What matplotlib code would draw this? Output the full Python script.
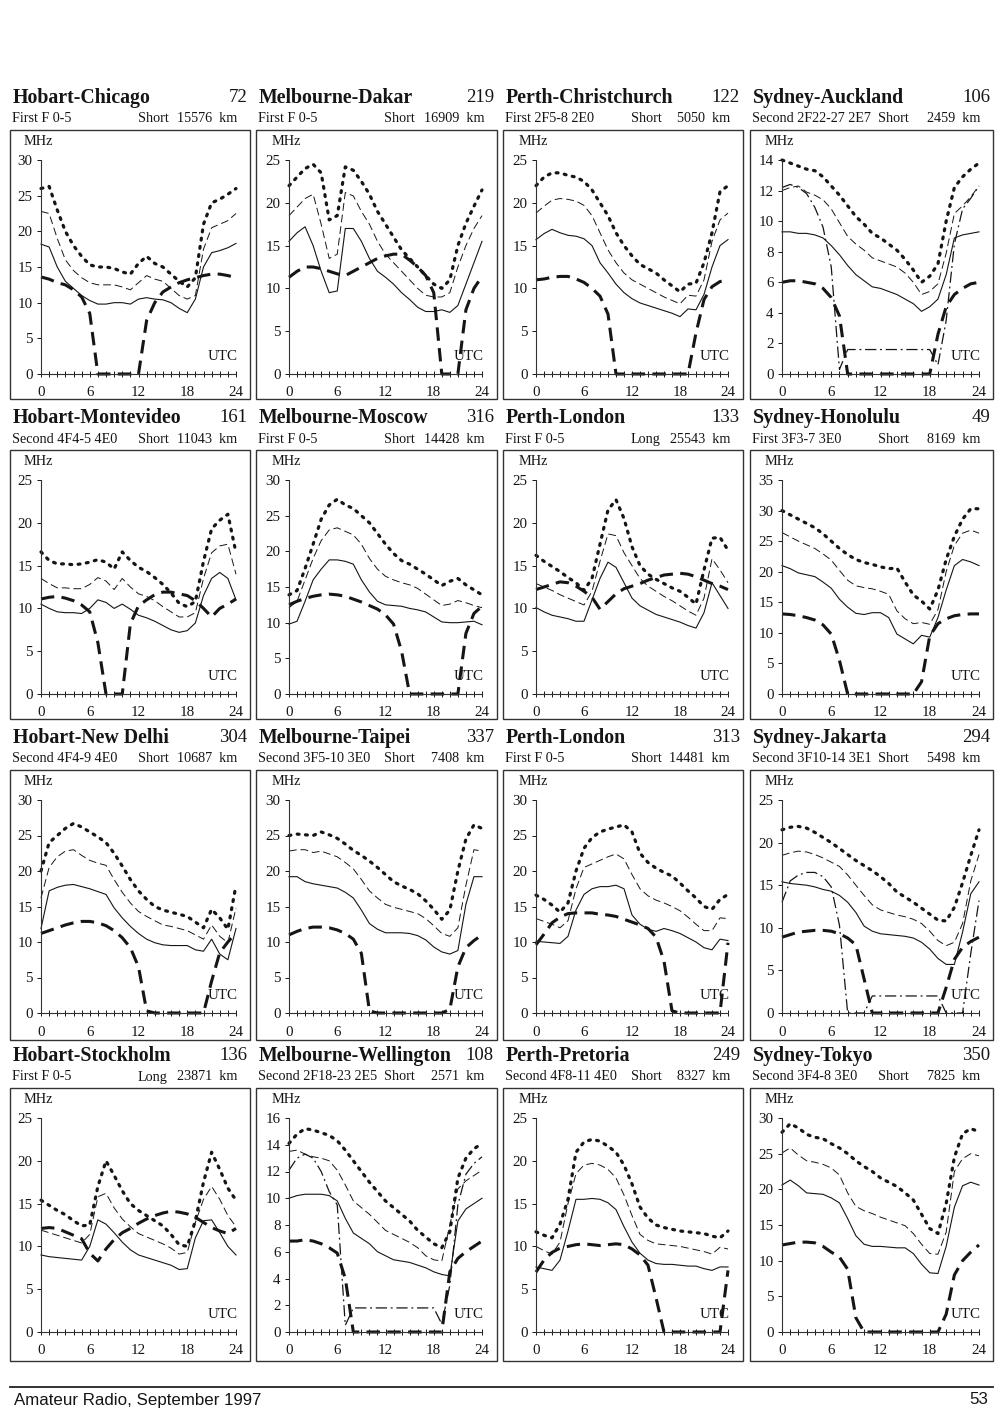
import numpy as np
import matplotlib
matplotlib.use("Agg")
import matplotlib.pyplot as plt
from matplotlib.patches import Rectangle
from matplotlib.lines import Line2D

plt.rcParams['font.family'] = ['Liberation Serif', 'DejaVu Serif']

# ---- panel information -------------------------------------------------
routes = ['Hobart-Chicago', 'Melbourne-Dakar', 'Perth-Christchurch', 'Sydney-Auckland',
          'Hobart-Montevideo', 'Melbourne-Moscow', 'Perth-London', 'Sydney-Honolulu',
          'Hobart-New Delhi', 'Melbourne-Taipei', 'Perth-London', 'Sydney-Jakarta',
          'Hobart-Stockholm', 'Melbourne-Wellington', 'Perth-Pretoria', 'Sydney-Tokyo']
bearings = ['72', '219', '122', '106', '161', '316', '133', '49',
            '304', '337', '313', '294', '136', '108', '249', '350']
modes = ['First F 0-5', 'First F 0-5', 'First 2F5-8 2E0', 'Second 2F22-27 2E7',
         'Second 4F4-5 4E0', 'First F 0-5', 'First F 0-5', 'First 3F3-7 3E0',
         'Second 4F4-9 4E0', 'Second 3F5-10 3E0', 'First F 0-5', 'Second 3F10-14 3E1',
         'First F 0-5', 'Second 2F18-23 2E5', 'Second 4F8-11 4E0', 'Second 3F4-8 3E0']
paths = ['Short', 'Short', 'Short', 'Short', 'Short', 'Short', 'Long', 'Short',
         'Short', 'Short', 'Short', 'Short', 'Long', 'Short', 'Short', 'Short']
distances = ['15576', '16909', '5050', '2459', '11043', '14428', '25543', '8169',
             '10687', '7408', '14481', '5498', '23871', '2571', '8327', '7825']
y_max = [30, 25, 25, 14, 25, 30, 25, 35, 30, 30, 30, 25, 25, 16, 25, 30]
y_step = [5, 5, 5, 2, 5, 5, 5, 5, 5, 5, 5, 5, 5, 2, 5, 5]

hours = list(range(25))

# dotted: upper decile
upper = [
    [26, 26.3, 23, 20, 18, 16.5, 15.3, 15, 15, 14.8, 14.3, 14, 15.5, 16.5, 15.5, 15, 14, 13, 12.2, 13.5, 21, 24, 24.5, 25.2, 26],
    [22, 23, 24, 24.5, 23.5, 18, 18.5, 24.2, 23.8, 22.5, 21, 19, 17.5, 16, 14.5, 13.5, 12.5, 11.5, 10.5, 10, 11, 15, 17.6, 19.6, 21.5],
    [22, 23, 23.5, 23.5, 23.2, 23, 22.5, 21.5, 20, 18.5, 16.5, 15, 13.8, 12.8, 12.3, 11.8, 11, 10.3, 9.6, 10.5, 10.6, 13, 16.5, 21.3, 22],
    [14, 13.8, 13.6, 13.4, 13.3, 12.9, 12.3, 11.7, 11, 10.3, 9.8, 9.2, 8.9, 8.5, 8.1, 7.5, 6.8, 6.0, 6.4, 7.2, 10, 12.2, 12.9, 13.4, 13.8],
    [16.6, 15.6, 15.2, 15.2, 15.1, 15.2, 15.4, 15.7, 15.4, 14.6, 16.6, 15.6, 14.8, 14.3, 13.6, 12.8, 11.8, 10.6, 10.2, 10.8, 15.5, 19.3, 20.3, 21, 16.5],
    [13.9, 14.5, 17.6, 21, 24.5, 26.5, 27.3, 26.5, 26, 25, 24, 22.5, 21, 19.7, 18.7, 18.2, 17.5, 16.8, 16, 15.2, 15.8, 16.2, 15.3, 14.6, 13.9],
    [16.2, 15.5, 14.9, 14.3, 13.6, 13, 12.1, 13.5, 17.5, 21.5, 22.7, 20.5, 17.2, 15, 14, 13.4, 12.9, 12.4, 12, 11.3, 10.5, 14.5, 18.2, 18.3, 16.8],
    [30, 29.3, 28.6, 27.9, 27.2, 26.2, 25, 23.8, 22.8, 22, 21.5, 21.2, 20.8, 20.5, 20.6, 18.3, 16.2, 15.2, 13.9, 17, 22, 25.8, 28.6, 30.3, 30.3],
    [20, 24, 25, 26, 26.7, 26.2, 25.5, 24.8, 24, 22.5, 20.7, 18.8, 17.2, 16, 15, 14.5, 14.2, 13.9, 13.6, 12.8, 12, 14.6, 13.4, 11.8, 18],
    [25, 25.2, 25.1, 25, 25.5, 25.1, 24.6, 23.8, 22.9, 22.2, 21.4, 20.5, 19.5, 18.5, 17.9, 17.4, 16.8, 15.8, 14.6, 13.2, 14.5, 20, 24.5, 26.5, 26],
    [16.6, 16, 15.2, 14.2, 15.5, 20, 23.2, 24.7, 25.5, 25.9, 26.2, 26.5, 25.5, 22.5, 21.2, 20.4, 19.8, 19.3, 18.3, 17.2, 16.2, 15, 14.6, 16, 16.7],
    [21.5, 21.8, 21.9, 21.7, 21.2, 20.6, 20, 19.3, 18.6, 17.9, 17.3, 16.7, 16, 15.2, 14.2, 13.6, 13, 12.3, 11.6, 10.9, 10.8, 12.4, 15.3, 18.5, 21.5],
    [15.4, 14.8, 14.2, 13.7, 13, 12.4, 12.5, 17, 20, 18.3, 16.5, 15, 14.2, 13.6, 13, 12.4, 11.4, 10.2, 10, 13, 17.5, 21, 19, 16.8, 15.4],
    [14.1, 14.8, 15.2, 15.1, 14.9, 14.7, 14.3, 13.6, 12.8, 12, 11.2, 10.5, 9.8, 9.3, 8.8, 8.3, 7.6, 7.1, 6.6, 6.3, 7.5, 11.5, 13, 13.7, 14.1],
    [11.7, 11.3, 11, 12.6, 15.5, 21, 22.2, 22.5, 22.3, 21.7, 21, 19.5, 17.3, 14.6, 13.3, 12.5, 12.2, 12, 11.8, 11.7, 11.6, 11.5, 11.2, 11, 11.8],
    [28, 29.2, 28.6, 27.7, 27.3, 27.1, 26.4, 25.8, 25, 24, 23.2, 22.5, 21.6, 21, 20.4, 19.5, 18.5, 16.5, 14.5, 13.8, 18, 24.5, 27.8, 28.5, 28.1],
]

# thin dashed: median MUF
median = [
    [22.8, 22.5, 19, 16, 14.5, 13.5, 12.8, 12.5, 12.5, 12.5, 12.2, 11.8, 12.8, 13.8, 13.3, 13, 12, 11, 10.5, 11, 17.5, 20.5, 21, 21.5, 22.5],
    [18.5, 19.5, 20.5, 21, 17.5, 13.5, 14, 21.2, 20.8, 19, 17.5, 15.5, 14, 13, 12, 11, 10, 9.2, 9, 9, 9.5, 12.5, 15, 17, 18.5],
    [18.8, 19.6, 20.3, 20.5, 20.4, 20.2, 19.7, 18.5, 16.5, 14.5, 13, 11.8, 11, 10.5, 10, 9.5, 9, 8.6, 8.2, 9.2, 9.1, 11, 15.5, 18, 18.8],
    [12, 12.2, 12.3, 11.9, 11.7, 11.4, 10.8, 9.9, 9, 8.5, 8.1, 7.6, 7.4, 7.2, 7.0, 6.6, 6.0, 5.2, 5.4, 5.9, 7.9, 10.5, 11, 11.6, 12.3],
    [13.5, 12.9, 12.4, 12.4, 12.3, 12.3, 12.8, 13.6, 13.2, 12.2, 13.5, 12.5, 11.7, 11.4, 10.9, 10.2, 9.6, 9.0, 9.0, 9.5, 13.5, 16.5, 17.3, 17.5, 14],
    [12.1, 13, 16, 19, 21.5, 23, 23.3, 22.8, 22.3, 21, 19, 17.5, 16.5, 16, 15.6, 15.3, 14.8, 14, 13.2, 12.4, 12.6, 13.1, 12.8, 12.4, 12.1],
    [12.9, 12.5, 12.1, 11.6, 11.2, 10.8, 10.4, 12, 15.5, 18.7, 18.5, 16.5, 15, 13.5, 12.6, 12, 11.4, 10.9, 10.3, 9.7, 9.2, 11.2, 15.8, 14.5, 13],
    [26.4, 25.7, 25, 24.4, 23.8, 22.9, 21.9, 20.2, 18.6, 17.7, 17.4, 17.2, 16.8, 16.3, 13.6, 12.3, 11.5, 11.7, 11.4, 13.8, 20, 24.3, 26.3, 26.8, 26.3],
    [16.2, 20.5, 22, 22.8, 23, 22.2, 21.5, 21.1, 20.8, 18.8, 17, 15.5, 14.3, 13.6, 13, 12.4, 12.2, 11.9, 11.6, 11, 10.4, 12.4, 10.8, 9.9, 14.8],
    [22.8, 23, 23, 22.6, 22.8, 22.4, 22, 21.2, 20.3, 18.8, 17.2, 16.2, 15.3, 14.9, 14.6, 14.3, 14, 13.3, 12.3, 11.2, 10.8, 12, 18, 23, 22.8],
    [13.3, 12.9, 12.5, 12, 13, 17.5, 20.5, 21, 21.5, 22, 22.4, 21.7, 19.5, 17.5, 16.5, 15.9, 15.5, 15, 14.4, 13.5, 12.5, 11.6, 11.6, 13.4, 13.3],
    [18.5, 18.8, 19, 18.9, 18.6, 18.2, 17.7, 17.2, 16.2, 15, 13.8, 12.7, 12.1, 11.8, 11.5, 11.3, 11, 10.5, 9.6, 8.5, 7.9, 8.3, 10.5, 15.5, 18.6],
    [11.9, 11.6, 11.3, 11, 10.7, 10.4, 11.4, 15.8, 16.2, 14.5, 13.2, 12.3, 11.5, 11.1, 10.7, 10.3, 9.8, 9.1, 9.3, 12.8, 15.5, 17, 15.5, 13.6, 12.3],
    [13.5, 13.6, 13.3, 13.1, 13, 12.8, 12.1, 11, 9.8, 9.3, 8.8, 8.2, 7.6, 7.3, 7, 6.7, 6.3, 5.7, 5.4, 5.3, 8, 10.7, 11.3, 11.7, 12.1],
    [10, 9.5, 9.1, 10.5, 15, 18.5, 19.5, 19.7, 19.5, 19, 18, 16, 13.6, 11.4, 10.7, 10.3, 10.2, 10.1, 10, 9.8, 9.6, 9.4, 9.1, 9.9, 9.7],
    [25.1, 25.8, 24.8, 24, 23.8, 23.5, 23, 22, 19.5, 17.6, 17, 16.6, 16.1, 15.7, 15.3, 14.9, 13.8, 12.3, 11, 10.9, 14, 22.5, 24.3, 25, 24.7],
]

# solid: lower decile
lower = [
    [18.2, 17.8, 15, 13, 12, 11, 10.3, 9.8, 9.8, 10, 10, 9.8, 10.5, 10.7, 10.5, 10.4, 10, 9.2, 8.6, 10.5, 15, 17, 17.3, 17.7, 18.3],
    [15.5, 16.5, 17.2, 15, 12, 9.5, 9.7, 17, 17, 15.5, 13.5, 12, 11.3, 10.5, 9.5, 8.7, 7.8, 7.3, 7.3, 7.5, 7.2, 8, 10.5, 13, 15.5],
    [15.7, 16.4, 16.9, 16.5, 16.2, 16.1, 15.8, 15, 13, 11.8, 10.5, 9.5, 8.8, 8.3, 8, 7.7, 7.4, 7.1, 6.7, 7.6, 7.5, 9.3, 12.5, 15, 15.7],
    [9.3, 9.3, 9.2, 9.2, 9.1, 8.9, 8.4, 7.8, 7.1, 6.5, 6.1, 5.7, 5.6, 5.4, 5.2, 4.9, 4.6, 4.1, 4.4, 4.9, 6.5, 8.9, 9.1, 9.2, 9.3],
    [10.5, 10, 9.6, 9.5, 9.5, 9.4, 10, 11, 10.7, 10, 10.5, 9.9, 9.2, 8.9, 8.5, 8, 7.5, 7.2, 7.4, 8.3, 11.5, 13.5, 14.2, 13.5, 11],
    [9.8, 10.2, 13, 16, 17.5, 18.8, 18.8, 18.6, 18.2, 16, 14.3, 13, 12.5, 12.4, 12.3, 12, 11.8, 11.5, 10.8, 10.1, 10, 10, 10.1, 10.2, 9.7],
    [10.1, 9.6, 9.2, 9.0, 8.8, 8.5, 8.5, 11, 13.5, 15.4, 14.8, 13, 11.2, 10.3, 9.8, 9.3, 9, 8.7, 8.4, 8, 7.7, 9.5, 13, 11.5, 10],
    [21, 20.5, 19.8, 19.5, 19.2, 18.3, 17.3, 15.5, 14.2, 13.2, 13, 13.3, 13.3, 12.5, 9.8, 9, 8.2, 9.6, 9.3, 12.5, 17, 21, 22, 21.6, 21],
    [11.9, 17.2, 17.7, 18, 18.1, 17.8, 17.5, 17.1, 16.7, 14.8, 13.4, 12.2, 11.2, 10.4, 9.9, 9.6, 9.5, 9.5, 9.5, 8.9, 8.7, 10.4, 8.3, 7.5, 11.9],
    [19.2, 19.2, 18.5, 18.2, 18, 17.8, 17.6, 17, 16.2, 14.5, 12.6, 11.8, 11.3, 11.3, 11.3, 11.2, 10.9, 10.3, 9.3, 8.6, 8.3, 8.8, 15.3, 19.2, 19.2],
    [10.1, 10, 9.9, 9.8, 10.8, 14.5, 16.7, 17.5, 17.8, 17.8, 18, 17.5, 13.8, 12.5, 11.8, 11.5, 11.9, 11.6, 11.2, 10.6, 10, 9.2, 8.9, 10.4, 10.2],
    [15.4, 15.2, 15.1, 15, 14.8, 14.5, 14.3, 13.8, 13, 11.8, 10.2, 9.6, 9.3, 9.2, 9.1, 9, 8.8, 8.3, 7.5, 6.4, 5.7, 5.7, 9.5, 14, 15.4],
    [9, 8.8, 8.7, 8.6, 8.5, 8.4, 10, 13.1, 12.6, 11.6, 10.5, 9.6, 9, 8.7, 8.4, 8.1, 7.8, 7.3, 7.4, 11, 13, 13.1, 11.6, 10, 9],
    [10, 10.2, 10.3, 10.3, 10.3, 10.2, 9.8, 8.5, 7.4, 7, 6.6, 6, 5.7, 5.4, 5.3, 5.2, 5, 4.8, 4.5, 4.3, 4.2, 8.3, 9.2, 9.6, 10],
    [7.6, 7.4, 7.2, 8.4, 11.8, 15.5, 15.5, 15.6, 15.5, 15.1, 14.3, 12.3, 10.5, 9.2, 8.4, 8.0, 7.9, 7.9, 7.8, 7.7, 7.7, 7.4, 7.2, 7.6, 7.6],
    [20.6, 21.3, 20.5, 19.5, 19.4, 19.3, 18.8, 18.1, 15.9, 13.5, 12.3, 12, 12, 11.9, 11.8, 11.8, 11, 9.5, 8.3, 8.2, 12, 17.5, 20.5, 21, 20.6],
]

# thick dashed: absorption limiting frequency
alf = [
    [13.6, 13.3, 12.8, 12.5, 11.8, 10.8, 8.5, 0, 0, 0, 0, 0, 0, 7.5, 10, 11.5, 12.2, 12.8, 13.2, 13.5, 13.8, 14, 14, 13.8, 13.5],
    [11.3, 12, 12.5, 12.5, 12.3, 12, 11.7, 11.5, 12, 12.5, 13, 13.5, 13.8, 14, 14, 13.3, 12.5, 11.5, 9.5, 0, 0, 0, 7.5, 10, 11.4],
    [11, 11.1, 11.3, 11.4, 11.4, 11.1, 10.7, 10, 9.1, 7, 0, 0, 0, 0, 0, 0, 0, 0, 0, 0, 4.8, 8.7, 10.2, 10.8, 11],
    [6.0, 6.1, 6.1, 6.0, 5.9, 5.6, 5.0, 3.8, 0, 0, 0, 0, 0, 0, 0, 0, 0, 0, 0, 2.6, 4.4, 5.2, 5.6, 5.9, 6.0],
    [11.1, 11.3, 11.4, 11.2, 10.9, 10.4, 9.6, 6, 0, 0, 0, 8.2, 10.3, 11, 11.6, 11.9, 11.9, 11.7, 11.5, 10.9, 10, 9, 10, 10.5, 11.1],
    [12.5, 13, 13.4, 13.7, 13.9, 14, 13.9, 13.7, 13.3, 12.9, 12.4, 11.9, 11.1, 9.8, 6, 0, 0, 0, 0, 0, 0, 0, 8.5, 11.3, 12.3],
    [12.2, 12.5, 12.8, 13.1, 13, 12.6, 12, 11.3, 9.9, 10.8, 11.7, 12.3, 12.6, 12.9, 13.3, 13.6, 13.9, 14, 14.1, 14, 13.7, 13.3, 12.9, 12.6, 12.2],
    [13.1, 13, 12.8, 12.5, 12.1, 11.3, 9.8, 5.5, 0, 0, 0, 0, 0, 0, 0, 0, 0, 2, 9.5, 11.5, 12.3, 12.8, 13, 13.1, 13.1],
    [11.2, 11.6, 12, 12.4, 12.7, 12.9, 12.9, 12.7, 12.3, 11.6, 10.6, 9.2, 6.5, 0.3, 0, 0, 0, 0, 0, 0, 0, 4.5, 8.5, 10, 11.3],
    [11, 11.5, 11.9, 12.1, 12.1, 12, 11.7, 11.2, 10.4, 8.4, 0.3, 0, 0, 0, 0, 0, 0, 0, 0, 0, 0.5, 6.5, 9.2, 10.2, 11],
    [9.6, 11.1, 12.7, 13.5, 14, 14.1, 14.1, 14.1, 13.9, 13.8, 13.6, 13.2, 12.8, 12.4, 11.9, 10.7, 7.3, 0.3, 0, 0, 0, 0, 0, 0, 9.9],
    [8.9, 9.2, 9.5, 9.6, 9.7, 9.7, 9.6, 9.3, 8.8, 8, 4, 0, 0, 0, 0, 0, 0, 0, 0, 0, 3, 6.3, 7.7, 8.4, 8.9],
    [12.1, 12.2, 12.1, 11.7, 11.3, 10.9, 9.2, 8.3, 9.7, 10.8, 11.6, 12.1, 12.7, 13.2, 13.6, 13.9, 14.1, 14, 13.8, 13.4, 12.8, 12.2, 11.8, 11.5, 12.1],
    [6.8, 6.8, 6.9, 6.8, 6.6, 6.3, 5.9, 4, 0, 0, 0, 0, 0, 0, 0, 0, 0, 0, 0, 0, 4.5, 5.5, 6, 6.4, 6.8],
    [7, 8.4, 9.3, 9.8, 10, 10.2, 10.3, 10.2, 10.1, 10.2, 10.3, 10.2, 9.7, 9, 7.8, 4, 0, 0, 0, 0, 0, 0, 0, 0, 7.2],
    [12.2, 12.4, 12.6, 12.6, 12.5, 12, 11.2, 10.5, 8.8, 2, 0, 0, 0, 0, 0, 0, 0, 0, 0, 0, 2.5, 8, 10, 11.2, 12.2],
]

# dash-dot: E-layer MUF (short paths only)
e_auckland = [12.2, 12.4, 12.2, 11.8, 10.9, 9.6, 7, 0.3, 1.6, 1.6, 1.6, 1.6, 1.6, 1.6, 1.6, 1.6, 1.6, 1.6, 1.6, 0.6, 3.5, 8.5, 10.8, 11.5, 12.3]
e_jakarta = [13, 15.5, 16.2, 16.5, 16.5, 16, 14.8, 10.3, 0, 0, 0, 2, 2, 2, 2, 2, 2, 2, 2, 2, 0, 0, 0, 7, 13.2]
e_wellington = [12.1, 13, 13.3, 13, 12, 10.5, 9.5, 0.5, 1.8, 1.8, 1.8, 1.8, 1.8, 1.8, 1.8, 1.8, 1.8, 1.8, 1.8, 0.6, 3.5, 9.5, 11.8, 12.6, 13.1]
e_muf = {3: e_auckland, 11: e_jakarta, 13: e_wellington}

# ---- layout (pixels of a 1000 x 1418 page) --------------------------------
W, H = 1000, 1418
ax_left = [41, 289, 536, 782]
ax_right = [236, 482, 728, 979]
ax_top = [160, 480, 800, 1118]
ax_bot = [374, 694, 1013, 1332]
box_x = [(10, 250), (256, 497), (503, 743), (750, 993)]
box_y = [(130, 399), (450, 719), (770, 1040), (1088, 1361)]

INK = '#151515'

fig = plt.figure(figsize=(W / 100, H / 100), dpi=100)


def fx(x):
    return x / W


def fy(y):
    return 1 - y / H


for i in range(16):
    r, c = divmod(i, 4)
    bx0, bx1 = box_x[c]
    by0, by1 = box_y[r]

    # frame around the panel
    fig.add_artist(Rectangle((fx(bx0), fy(by1)), (bx1 - bx0) / W, (by1 - by0) / H,
                             transform=fig.transFigure, fill=False, lw=1.0, ec='#333333'))

    # headings
    fig.text(fx(bx0 + 3), fy(by0 - 32), routes[i], fontsize=14.3, fontweight='bold',
             ha='left', va='center', color=INK)
    fig.text(fx(bx1 - 3), fy(by0 - 32), bearings[i], fontsize=13.5, ha='right', va='center', color=INK)
    fig.text(fx(bx0 + 2), fy(by0 - 11), modes[i], fontsize=10.2, ha='left', va='center', color=INK)
    fig.text(fx(bx0 + 128), fy(by0 - 11), paths[i], fontsize=10.2, ha='left', va='center', color=INK)
    fig.text(fx(bx1 - 13), fy(by0 - 11), distances[i] + '  km', fontsize=10.2, ha='right',
             va='center', color=INK)

    ax = fig.add_axes([fx(ax_left[c]), fy(ax_bot[r]),
                       (ax_right[c] - ax_left[c]) / W, (ax_bot[r] - ax_top[r]) / H])
    ax.patch.set_alpha(0)

    ax.plot(hours, upper[i], color=INK, lw=2.3, linestyle=(0, (0.6, 2.0)),
            dash_capstyle='round', clip_on=False)
    ax.plot(hours, median[i], color=INK, lw=0.7, linestyle=(0, (8, 4)), clip_on=False)
    ax.plot(hours, lower[i], color=INK, lw=0.8, clip_on=False)
    ax.plot(hours, alf[i], color=INK, lw=2.2, linestyle=(0, (4.4, 2.4)), clip_on=False)
    if i in e_muf:
        ax.plot(hours, e_muf[i], color=INK, lw=0.9, linestyle=(0, (9, 3, 1.5, 3)), clip_on=False)

    ax.set_xlim(0, 24)
    ax.set_ylim(0, y_max[i])
    for s in ('top', 'right'):
        ax.spines[s].set_visible(False)
    for s in ('left', 'bottom'):
        ax.spines[s].set_linewidth(0.8)
        ax.spines[s].set_color('#333333')

    ax.set_xticks(hours)
    ax.set_xticklabels([str(h) if h % 6 == 0 else '' for h in hours])
    ax.set_yticks(np.arange(0, y_max[i] + 0.1, y_step[i]))
    ax.tick_params(axis='x', direction='inout', length=5, width=0.7, pad=6.5,
                   labelsize=10.8, colors=INK)
    ax.tick_params(axis='y', direction='out', length=3, width=0.7, pad=3,
                   labelsize=10.8, colors=INK)

    ax.annotate('MHz', xy=(0, 1), xycoords='axes fraction', xytext=(-2, 13.5),
                textcoords='offset points', ha='center', va='center', fontsize=10.3, color=INK)
    ax.annotate('UTC', xy=(1, 0), xycoords='axes fraction', xytext=(1, 12.5),
                textcoords='offset points', ha='right', va='center', fontsize=10.8, color=INK)

# footer
fig.add_artist(Line2D([fx(10), fx(993)], [fy(1387), fy(1387)], transform=fig.transFigure,
                      color='#222222', lw=1.3))
fig.text(fx(14), fy(1400), 'Amateur Radio, September 1997', fontsize=12.2,
         family=['Liberation Sans', 'DejaVu Sans'], ha='left', va='center', color=INK)
fig.text(fx(988), fy(1400), '53', fontsize=12.2, family=['Liberation Sans', 'DejaVu Sans'],
         ha='right', va='center', color=INK)

fig.savefig('out.png', dpi=100, facecolor='white')
